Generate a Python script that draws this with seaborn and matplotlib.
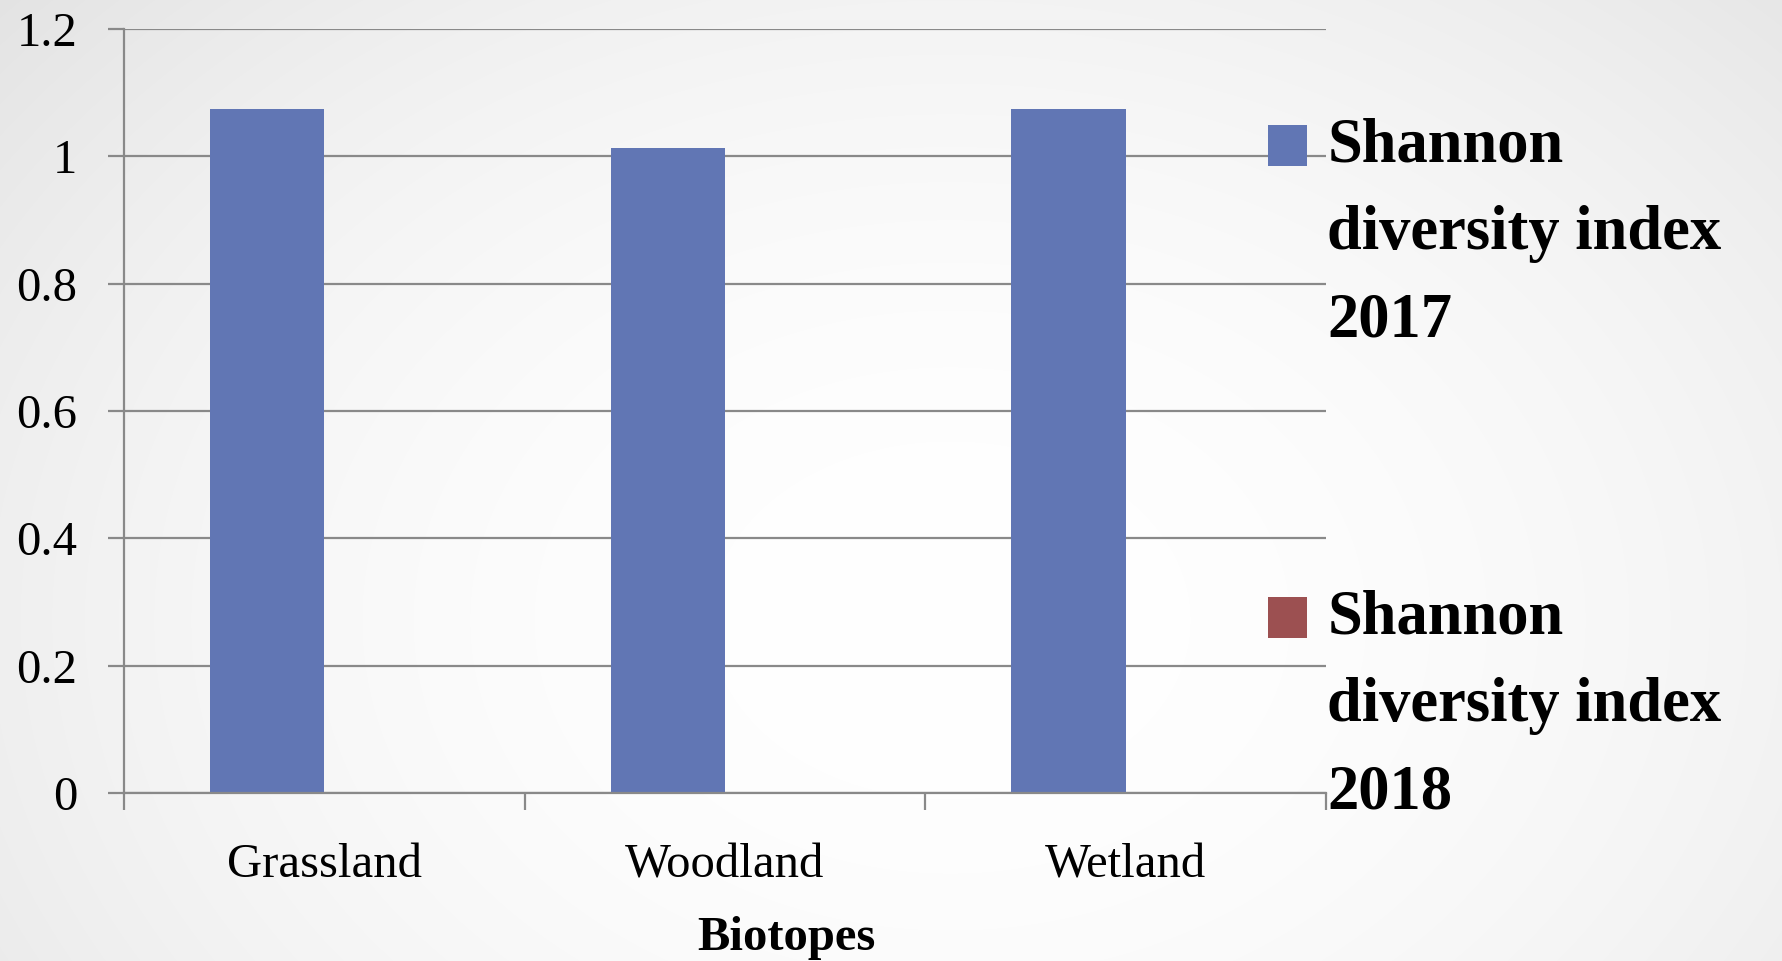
import textwrap

import matplotlib
matplotlib.use("Agg")
import matplotlib.pyplot as plt
from matplotlib.legend_handler import HandlerPatch
from matplotlib.patches import Rectangle
import numpy as np
import pandas as pd
import seaborn as sns

# ---- data -------------------------------------------------------------
biotopes = ["Grassland", "Woodland", "Wetland"]
series_names = ["Shannon diversity index 2017", "Shannon diversity index 2018"]
shannon_2017 = [1.075, 1.013, 1.075]
shannon_2018 = [np.nan, np.nan, np.nan]
y_ticks = [0, 0.2, 0.4, 0.6, 0.8, 1, 1.2]
y_tick_labels = ["0", "0.2", "0.4", "0.6", "0.8", "1", "1.2"]
x_title = "Biotopes"

series_colors = {series_names[0]: "#6176B4", series_names[1]: "#9C5051"}

df = pd.DataFrame({
    "Biotope": biotopes * 2,
    "Series": [series_names[0]] * 3 + [series_names[1]] * 3,
    "Value": shannon_2017 + shannon_2018,
})

# ---- style -------------------------------------------------------------
sns.set_theme(style="white")
plt.rcParams["font.family"] = ["Liberation Serif", "DejaVu Serif"]
plt.rcParams.update({
    "text.color": "black",
    "axes.labelcolor": "black",
    "xtick.labelcolor": "black",
    "ytick.labelcolor": "black",
})
GRAY = "#898989"

W, H, DPI = 1783, 961, 100
fig = plt.figure(figsize=(W / DPI, H / DPI), dpi=DPI)

# soft radial background
bg = fig.add_axes([0, 0, 1, 1], zorder=-10)
yy, xx = np.mgrid[0:H, 0:W]
r2 = ((xx - 950) / 1100.0) ** 2 + ((yy - 620) / 820.0) ** 2
shade = np.clip(255 - 21 * r2, 0, 255) / 255.0
bg.imshow(np.dstack([shade] * 3), aspect="auto", extent=[0, 1, 0, 1], origin="upper")
bg.set_axis_off()

ax = fig.add_axes([124 / W, 1 - 793 / H, (1326 - 124) / W, (793 - 29) / H])
ax.set_facecolor("none")

sns.barplot(
    data=df, x="Biotope", y="Value", hue="Series",
    order=biotopes, hue_order=series_names, palette=series_colors,
    width=0.57, dodge=True, errorbar=None, saturation=1,
    linewidth=0, ax=ax,
)

ax.set_xlim(-0.5, len(biotopes) - 0.5)
ax.set_ylim(0, 1.2)

# y axis
ax.set_yticks(y_ticks)
ax.set_yticklabels(y_tick_labels)
ax.yaxis.grid(True, color=GRAY, linewidth=1.6)
ax.set_axisbelow(True)
ax.tick_params(axis="y", which="major", direction="out", length=11.5,
               width=1.6, color=GRAY, pad=22, labelsize=35, left=True,
               labelcolor="black")

# x axis: boundary ticks, labels centred on categories
ax.set_xticks(np.arange(-0.5, len(biotopes)), labels=[""] * (len(biotopes) + 1))
ax.set_xticks(np.arange(len(biotopes)), labels=biotopes, minor=True)
ax.tick_params(axis="x", which="major", direction="out", length=12,
               width=1.6, color=GRAY, bottom=True)
ax.tick_params(axis="x", which="minor", length=0, pad=36, labelsize=35,
               labelcolor="black")

for side in ("top", "right"):
    ax.spines[side].set_visible(False)
for side in ("left", "bottom"):
    ax.spines[side].set_color(GRAY)
    ax.spines[side].set_linewidth(1.6)

ax.set_ylabel("")
ax.set_xlabel(x_title, fontsize=35, fontweight="bold", va="top", color="black")
ax.xaxis.set_label_coords(0.551, -0.161)


# ---- legend ------------------------------------------------------------
class SquareOnFirstLine(HandlerPatch):
    """Square legend key raised to sit beside the first line of a wrapped label."""

    def __init__(self, lift, **kw):
        super().__init__(**kw)
        self.lift = lift

    def create_artists(self, legend, orig_handle, xdescent, ydescent,
                       width, height, fontsize, trans):
        p = Rectangle((-xdescent, -ydescent + self.lift), width, height,
                      facecolor=orig_handle.get_facecolor(), edgecolor="none",
                      transform=trans)
        return [p]


old = ax.get_legend()
handles = old.legend_handles
old.remove()
labels = [textwrap.fill(s, 16) for s in series_names]
leg_fs = 45
leg = fig.legend(
    handles, labels, loc="upper left", bbox_to_anchor=(1268 / W, 1 - 118 / H),
    frameon=False, prop={"weight": "bold", "size": leg_fs},
    handlelength=0.62, handleheight=0.62, handletextpad=0.33,
    labelspacing=3.82, borderpad=0, borderaxespad=0,
    handler_map={h: SquareOnFirstLine(lift=64) for h in handles},
)
for t in leg.get_texts():
    t.set_linespacing(1.67)
    t.set_color("black")

fig.savefig("out.png", dpi=DPI)
